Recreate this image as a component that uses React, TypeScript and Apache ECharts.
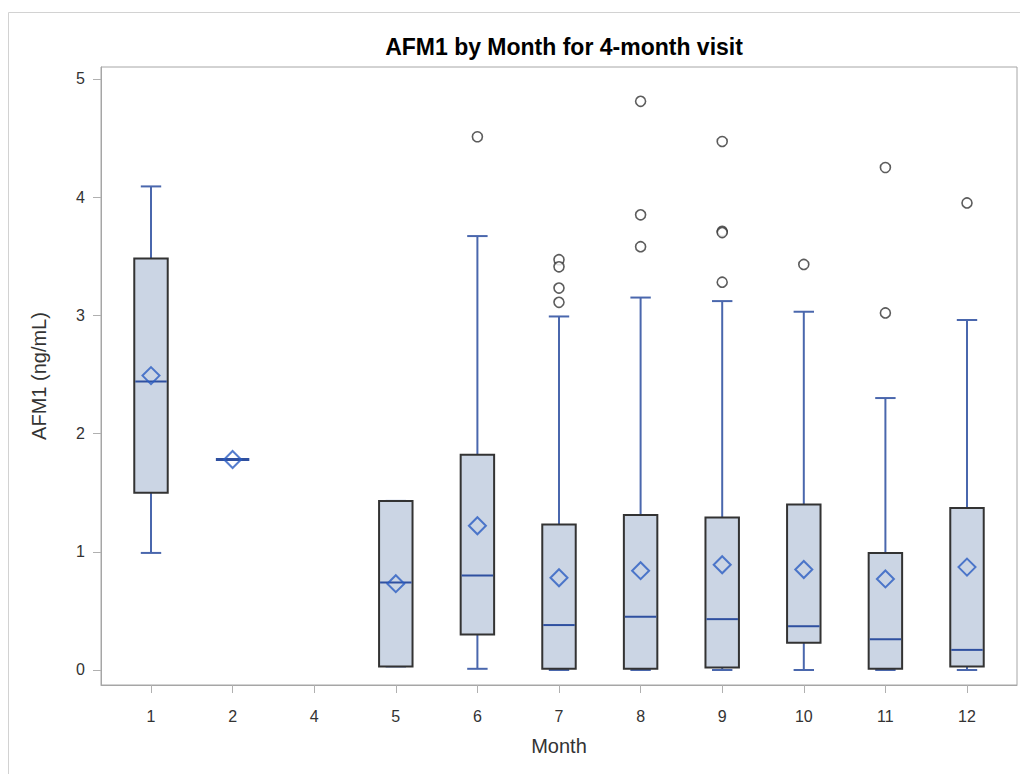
import React, { useEffect, useRef } from "react";
import * as echarts from "echarts";

const months = ["1", "2", "4", "5", "6", "7", "8", "9", "10", "11", "12"];
const whiskerLow = [0.99, 1.78, null, 0.03, 0.01, 0.0, 0.0, 0.0, 0.0, 0.0, 0.0];
const q1 = [1.5, 1.78, null, 0.03, 0.3, 0.01, 0.01, 0.02, 0.23, 0.01, 0.03];
const median = [2.44, 1.78, null, 0.74, 0.8, 0.38, 0.45, 0.43, 0.37, 0.26, 0.17];
const q3 = [3.48, 1.78, null, 1.43, 1.82, 1.23, 1.31, 1.29, 1.4, 0.99, 1.37];
const whiskerHigh = [4.09, 1.78, null, 1.43, 3.67, 2.99, 3.15, 3.12, 3.03, 2.3, 2.96];
const means = [2.49, 1.78, null, 0.73, 1.22, 0.78, 0.84, 0.89, 0.85, 0.77, 0.87];
const outlierMonths = ["6", "7", "7", "7", "7", "8", "8", "8", "9", "9", "9", "9", "10", "11", "11", "12"];
const outlierValues = [4.51, 3.47, 3.41, 3.23, 3.11, 4.81, 3.85, 3.58, 4.47, 3.71, 3.7, 3.28, 3.43, 4.25, 3.02, 3.95];
const yTicks = [0, 1, 2, 3, 4, 5];

const FONT = "'Liberation Sans', Arial, sans-serif";
const BOX_FILL = "#CBD5E4";
const BOX_BORDER = "#333333";
const WHISKER = "#4A67AD";
const MEDIAN = "#2F50A0";
const MEAN = "#2B5CC2";

export default function App() {
  const ref = useRef<HTMLDivElement>(null);

  useEffect(() => {
    if (!ref.current) return;
    const chart = echarts.init(ref.current, null, { renderer: "svg" });

    const boxData: any[] = [];
    months.forEach((m, i) => {
      if (median[i] == null) return;
      boxData.push([i, whiskerLow[i], q1[i], median[i], q3[i], whiskerHigh[i]]);
    });
    const meanData: any[] = [];
    months.forEach((m, i) => {
      if (means[i] == null) return;
      meanData.push([i, means[i]]);
    });
    const outlierData = outlierMonths.map((m, k) => [months.indexOf(m), outlierValues[k]]);

    const renderItem = (params: any, api: any) => {
      const x = api.value(0);
      const lo = api.value(1);
      const a = api.value(2);
      const md = api.value(3);
      const b = api.value(4);
      const hi = api.value(5);
      const unit = api.size([1, 0])[0];
      const bw = unit * 0.41;
      const cw = unit * 0.25;
      const pLo = api.coord([x, lo]);
      const pA = api.coord([x, a]);
      const pM = api.coord([x, md]);
      const pB = api.coord([x, b]);
      const pHi = api.coord([x, hi]);
      const cx = pM[0];
      const children: any[] = [];
      const wStyle = { stroke: WHISKER, lineWidth: 2 };
      if (b > a) {
        children.push({ type: "line", shape: { x1: cx, y1: pB[1], x2: cx, y2: pHi[1] }, style: wStyle });
        children.push({ type: "line", shape: { x1: cx - cw / 2, y1: pHi[1], x2: cx + cw / 2, y2: pHi[1] }, style: wStyle });
        children.push({ type: "line", shape: { x1: cx, y1: pA[1], x2: cx, y2: pLo[1] }, style: wStyle });
        children.push({ type: "line", shape: { x1: cx - cw / 2, y1: pLo[1], x2: cx + cw / 2, y2: pLo[1] }, style: wStyle });
        children.push({
          type: "rect",
          shape: { x: cx - bw / 2, y: pB[1], width: bw, height: pA[1] - pB[1] },
          style: { fill: BOX_FILL, stroke: BOX_BORDER, lineWidth: 2 },
        });
        children.push({
          type: "line",
          shape: { x1: cx - bw / 2 + 1, y1: pM[1], x2: cx + bw / 2 - 1, y2: pM[1] },
          style: { stroke: MEDIAN, lineWidth: 2 },
        });
      } else {
        children.push({
          type: "line",
          shape: { x1: cx - bw / 2, y1: pM[1], x2: cx + bw / 2, y2: pM[1] },
          style: { stroke: MEDIAN, lineWidth: 3 },
        });
      }
      return { type: "group", children };
    };

    const axisText = { color: "#333333", fontSize: 16, fontFamily: FONT };
    const idx = months.map((_, i) => i);

    chart.setOption({
      animation: false,
      backgroundColor: "#ffffff",
      title: {
        text: "AFM1 by Month for 4-month visit",
        left: 559,
        textAlign: "center",
        top: 30,
        textStyle: { fontSize: 23, fontWeight: "bold", color: "#000000", fontFamily: FONT },
      },
      graphic: [
        {
          type: "rect",
          shape: { x: 8.5, y: 12.5, width: 1040, height: 800 },
          style: { fill: "none", stroke: "#d2d2d2", lineWidth: 1 },
          silent: true,
        },
      ],
      grid: {
        left: 101,
        top: 67,
        right: 3,
        bottom: 89,
        show: true,
        borderColor: "#a6a6a6",
        borderWidth: 1,
        backgroundColor: "transparent",
      },
      xAxis: {
        type: "value",
        min: -50 / 81.6,
        max: 10 + 50 / 81.6,
        name: "Month",
        nameLocation: "middle",
        nameGap: 51,
        nameTextStyle: { color: "#333333", fontSize: 20, fontFamily: FONT },
        axisLine: { show: true, onZero: false, lineStyle: { color: "#a6a6a6" } },
        axisTick: { show: true, length: 8, customValues: idx, lineStyle: { color: "#b0b0b0" } },
        axisLabel: {
          ...axisText,
          margin: 23,
          customValues: idx,
          formatter: (v: number) => months[Math.round(v)] ?? "",
        },
        splitLine: { show: false },
      },
      yAxis: {
        type: "value",
        min: -0.127,
        max: 5.1,
        name: "AFM1 (ng/mL)",
        nameLocation: "middle",
        nameGap: 52,
        nameRotate: 90,
        nameTextStyle: { color: "#333333", fontSize: 20, fontFamily: FONT },
        axisLine: { show: true, onZero: false, lineStyle: { color: "#a6a6a6" } },
        axisTick: { show: true, length: 8, customValues: yTicks, lineStyle: { color: "#b0b0b0" } },
        axisLabel: { ...axisText, margin: 16, customValues: yTicks },
        splitLine: { show: false },
      },
      series: [
        {
          type: "custom",
          renderItem,
          data: boxData,
          encode: { x: 0, y: [1, 2, 3, 4, 5] },
          z: 2,
        },
        {
          type: "scatter",
          data: meanData,
          symbol: "diamond",
          symbolSize: [17, 17],
          itemStyle: { color: "rgba(0,0,0,0)", borderColor: MEAN, borderWidth: 2 },
          z: 3,
        },
        {
          type: "scatter",
          data: outlierData,
          symbol: "circle",
          symbolSize: 10,
          itemStyle: { color: "#ffffff", borderColor: "#333333", borderWidth: 1.6 },
          z: 3,
        },
      ],
    });

    return () => chart.dispose();
  }, []);

  return (
    <div
      ref={ref}
      style={{ position: "absolute", left: 0, top: 0, width: 1020, height: 774, background: "#fff" }}
    />
  );
}
